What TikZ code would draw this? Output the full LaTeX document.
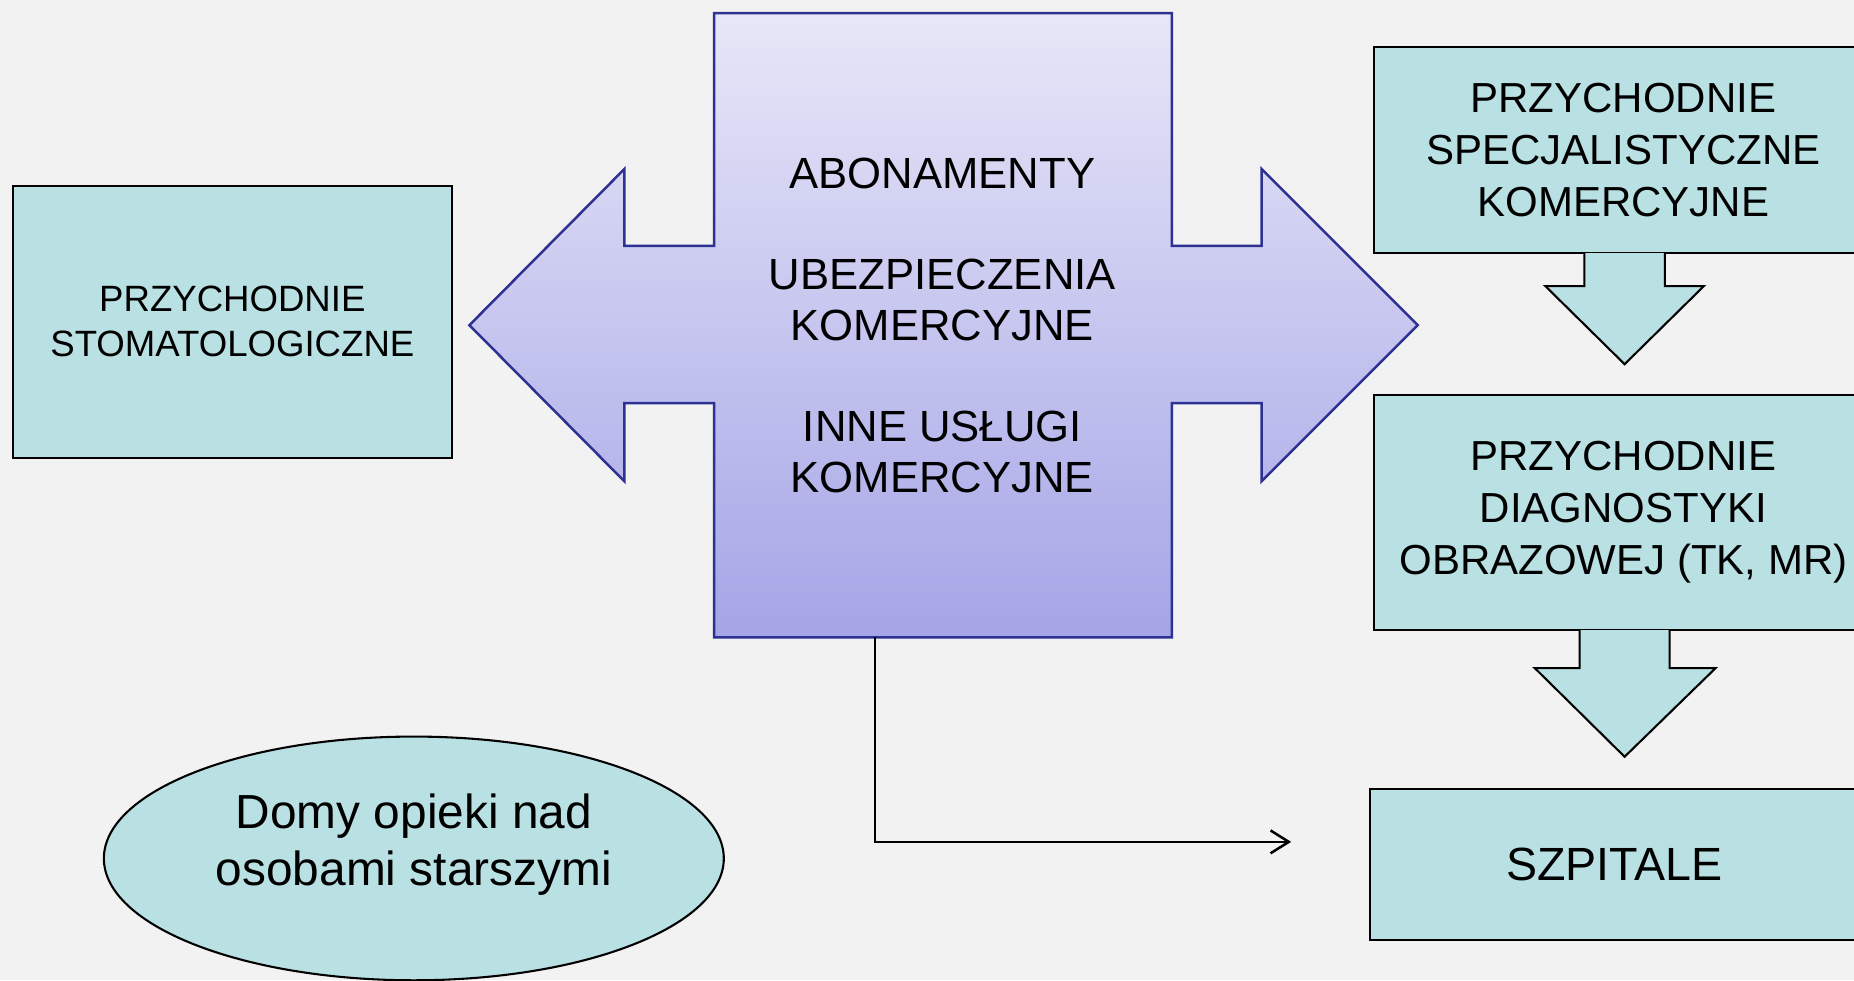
\documentclass[tikz,border=0pt]{standalone}
\usepackage{fontspec}
\setmainfont{Liberation Sans}
\usetikzlibrary{shapes.geometric,arrows.meta}
\definecolor{bgcol}{RGB}{242,242,242}
\definecolor{boxcol}{RGB}{185,224,226}
\definecolor{crosstop}{RGB}{231,231,248}
\definecolor{crossbot}{RGB}{165,165,231}
\definecolor{crossline}{RGB}{46,49,146}

\begin{document}
\begin{tikzpicture}[x=0.01cm, y=-0.01cm,
    boxnode/.style={rectangle, draw=black, fill=boxcol, line width=0.5pt, align=center, inner sep=0pt, font=\fontsize{10.1}{12.5}\selectfont},
    blockarrow/.style={draw=black, fill=boxcol, line width=0.5pt, line join=miter},
    ]
    \fill [bgcol] (0,0) rectangle (1568,829);
    \useasboundingbox (0,0) rectangle (1568,829);

    % cross in the middle
    \shade [top color=crosstop, bottom color=crossbot, draw=crossline, line width=0.6pt, line join=miter]
      (604,11) -- (991,11) -- (991,208) -- (1067,208) -- (1067,143) -- (1199,275)
      -- (1067,407) -- (1067,341) -- (991,341) -- (991,539) -- (604,539) -- (604,341)
      -- (528,341) -- (528,407) -- (397,275) -- (528,143) -- (528,208) -- (604,208) -- cycle;
    \node [font=\fontsize{10.5}{12.2}\selectfont, align=center] (uslugi) at (797,275)
      {ABONAMENTY\\[12.2pt]UBEZPIECZENIA\\KOMERCYJNE\\[12.2pt]INNE USŁUGI\\KOMERCYJNE};

    \node [boxnode, minimum width=3.71cm, minimum height=2.30cm, font=\fontsize{8.8}{10.8}\selectfont] (stomat) at (196.5,272) {PRZYCHODNIE\\STOMATOLOGICZNE};

    \node [boxnode, minimum width=4.22cm, minimum height=1.74cm] (specjal) at (1373,127) {PRZYCHODNIE\\SPECJALISTYCZNE\\KOMERCYJNE};
    \node [boxnode, minimum width=4.22cm, minimum height=1.99cm] (diagn) at (1373,433.5) {PRZYCHODNIE\\DIAGNOSTYKI\\OBRAZOWEJ (TK, MR)};
    \node [boxnode, minimum width=4.13cm, minimum height=1.28cm, font=\fontsize{11.2}{13}\selectfont] (szpital) at (1365.5,731) {SZPITALE};

    \draw [blockarrow] (1340,214) -- (1340,242) -- (1307,242) -- (1374,308) -- (1441,242) -- (1408,242) -- (1408,214);
    \draw [blockarrow] (1336,533) -- (1336,565) -- (1298,565) -- (1374,640) -- (1451,565) -- (1412,565) -- (1412,533);

    \node [ellipse, draw=black, fill=boxcol, line width=0.5pt, minimum width=5.24cm, minimum height=2.06cm, inner sep=0pt] (domy) at (350,726) {};
    \node [font=\fontsize{11.5}{13.7}\selectfont, align=center] (domytxt) at (350,714) {Domy opieki nad\\osobami starszymi};

    \coordinate (crossfoot) at (740,539);
    \coordinate (arrowend) at (1092,712);
    \draw [-{Straight Barb[length=4.4pt,width=5.5pt]}, line width=0.6pt] (crossfoot) |- (arrowend);

\end{tikzpicture}
\end{document}
